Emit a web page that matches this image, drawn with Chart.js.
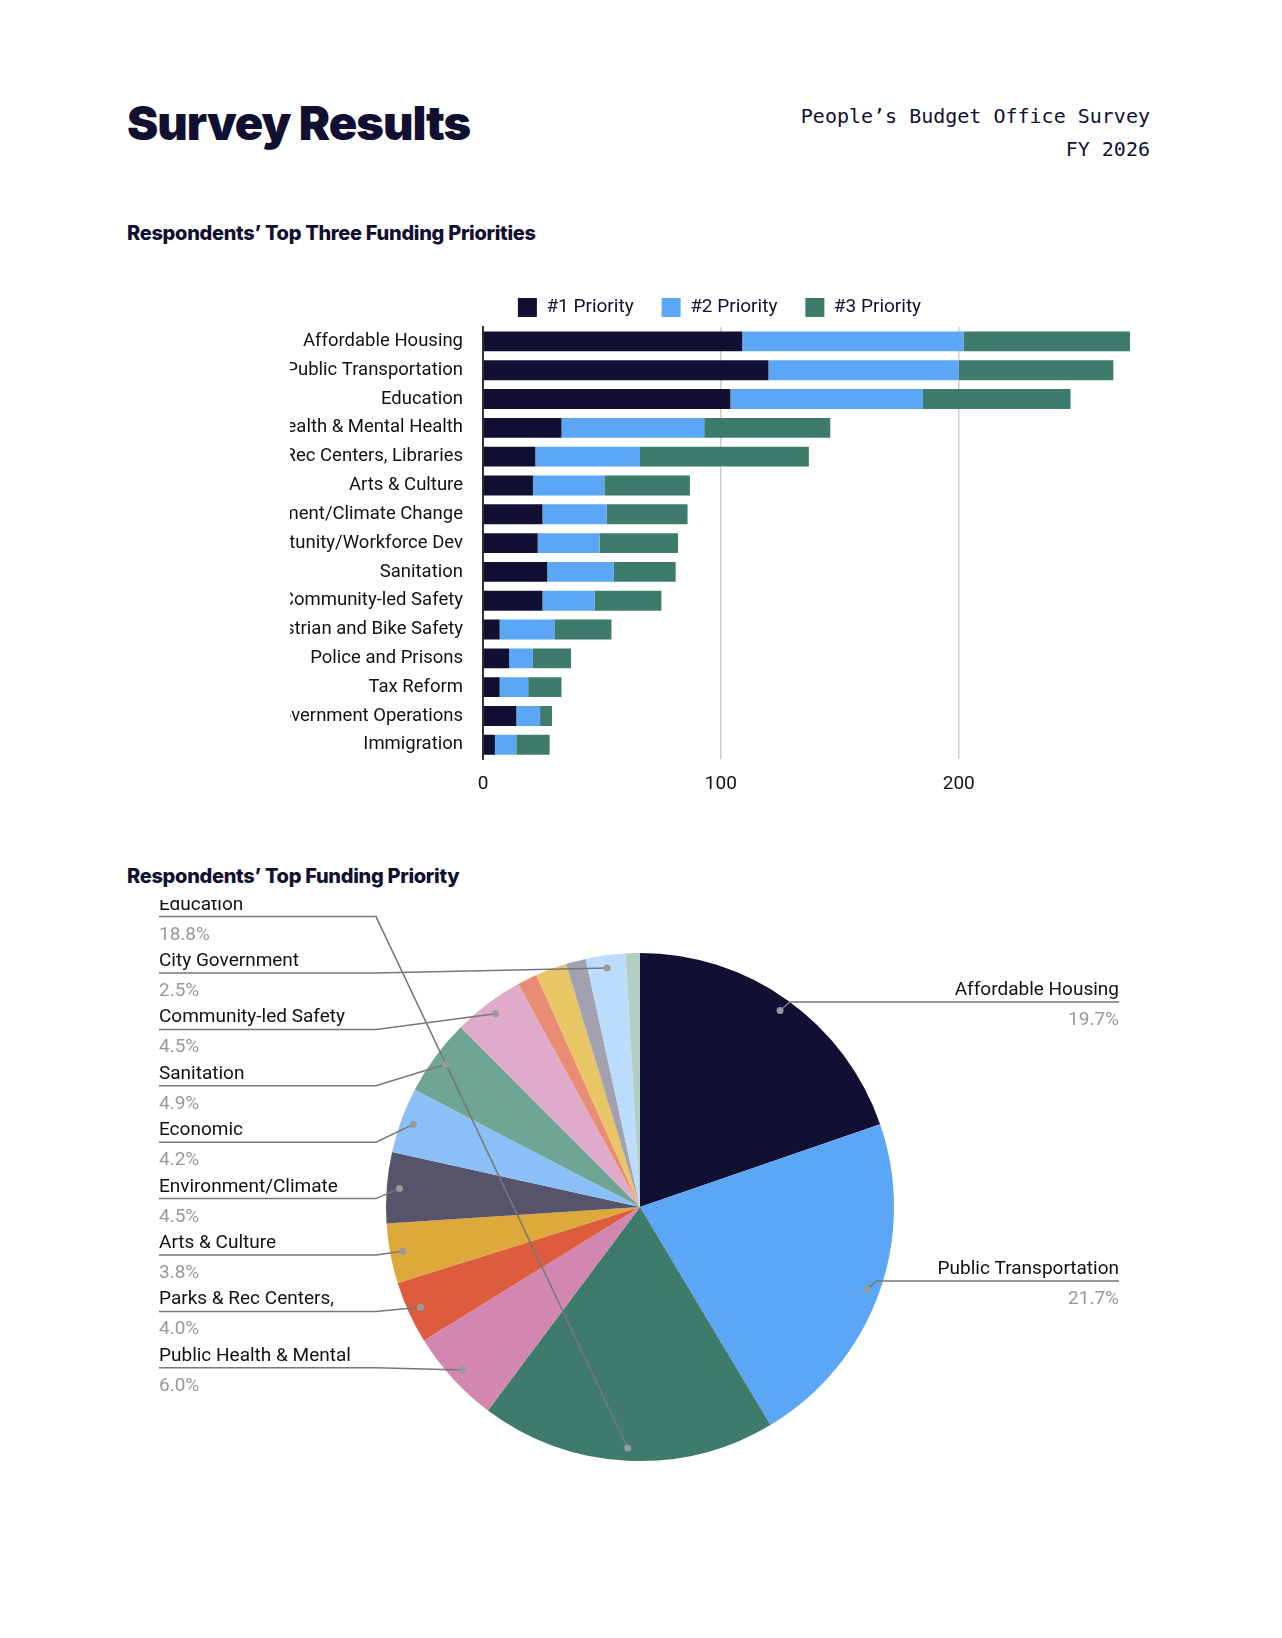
<!DOCTYPE html>
<html>
<head>
<meta charset="utf-8">
<script src="https://cdn.jsdelivr.net/npm/chart.js@4"></script>
<style>
  body { margin: 0; background: #fff; width: 1282px; height: 1638px; position: relative; font-family: Roboto, sans-serif; color: #111032; }
  h1 { position: absolute; left: 127px; top: 94px; margin: 0; font: 900 47px Inter, sans-serif; letter-spacing: -1px; }
  .sub { position: absolute; right: 132px; top: 100px; text-align: right; font: 20px "DejaVu Sans Mono", monospace; line-height: 33px; }
  h2 { position: absolute; left: 127px; margin: 0; font: 800 20px Inter, sans-serif; letter-spacing: -0.3px; }
  canvas { position: absolute; left: 0; }
</style>
</head>
<body>
<h1>Survey Results</h1>
<div class="sub">People’s Budget Office Survey<br>FY 2026</div>
<h2 style="top:221px">Respondents’ Top Three Funding Priorities</h2>
<div style="position:absolute;left:0;top:270px;width:1282px;height:540px"><canvas id="bars"></canvas></div>
<h2 style="top:864px">Respondents’ Top Funding Priority</h2>
<div style="position:absolute;left:0;top:900px;width:1282px;height:620px"><canvas id="pie"></canvas></div>
<script>
const categories = ["Affordable Housing", "Public Transportation", "Education", "Public Health & Mental Health",
  "Parks & Rec Centers, Libraries", "Arts & Culture", "Environment/Climate Change", "Economic Opportunity/Workforce Dev",
  "Sanitation", "Community-led Safety", "Pedestrian and Bike Safety", "Police and Prisons", "Tax Reform",
  "City Government Operations", "Immigration"];
const priority1 = [109, 120, 104, 33, 22, 21, 25, 23, 27, 25, 7, 11, 7, 14, 5];
const priority2 = [93, 80, 81, 60, 44, 30, 27, 26, 28, 22, 23, 10, 12, 10, 9];
const priority3 = [70, 65, 62, 53, 71, 36, 34, 33, 26, 28, 24, 16, 14, 5, 14];
const xTicks = [0, 100, 200];
// short names shown next to the pie (null = no label)
const pieNames = ["Affordable Housing", "Public Transportation", "Education", "Public Health & Mental",
  "Parks & Rec Centers,", "Arts & Culture", "Environment/Climate", "Economic", "Sanitation",
  "Community-led Safety", null, null, null, "City Government", null];
const pieColors = ["#111032", "#5ca6f6", "#3e7b6b", "#d287b0", "#de5c3e", "#dda93b", "#56536a", "#8bbff7",
  "#6fa594", "#e0aacb", "#e88d73", "#e8c565", "#a1a1b0", "#bcdcfd", "#b3cfc2"];

Chart.defaults.font.family = "Roboto";
Chart.defaults.color = "#111032";

new Chart(document.getElementById("bars"), {
  type: "bar",
  data: {
    labels: categories,
    datasets: [
      { label: "#1 Priority", data: priority1, backgroundColor: "#111032" },
      { label: "#2 Priority", data: priority2, backgroundColor: "#5ca6f6" },
      { label: "#3 Priority", data: priority3, backgroundColor: "#3e7b6b" },
    ],
  },
  options: {
    indexAxis: "y",
    responsive: true,
    maintainAspectRatio: false,
    animation: false,
    layout: { padding: { left: 290, right: 133, top: 0, bottom: 0 } },
    datasets: { bar: { categoryPercentage: 0.69, barPercentage: 1 } },
    plugins: {
      legend: {
        labels: { boxWidth: 19, boxHeight: 19, padding: 28, font: { size: 19 } },
      },
      tooltip: { enabled: false },
    },
    scales: {
      x: {
        stacked: true, min: 0, max: 280,
        afterBuildTicks: (s) => { s.ticks = xTicks.map((v) => ({ value: v })); },
        grid: { color: (c) => (c.tick && c.tick.value === 0 ? "rgba(0,0,0,0)" : "#cccccc"), drawTicks: false, lineWidth: 1.5 },
        border: { display: false },
        ticks: { font: { size: 19 }, padding: 14, color: "#111" },
      },
      y: {
        stacked: true,
        afterFit: (s) => { s.width = 193; },
        grid: { display: false, drawTicks: false },
        border: { color: "#333", width: 2 },
        ticks: { font: { size: 18.5 }, padding: 20, color: "#111", autoSkip: false },
      },
    },
  },
});

const leaderLabels = {
  id: "leaderLabels",
  afterDatasetsDraw(chart) {
    const ctx = chart.ctx;
    const meta = chart.getDatasetMeta(0);
    const total = priority1.reduce((a, b) => a + b, 0);
    const leftOrder = [];
    pieNames.forEach((n, i) => { if (n && i > 2) leftOrder.unshift(i); });
    ctx.save();
    ctx.font = "19px Roboto";
    pieNames.forEach((name, i) => {
      if (!name) return;
      const arc = meta.data[i];
      const mid = (arc.startAngle + arc.endAngle) / 2;
      const r = arc.outerRadius * 0.95;
      const dx = arc.x + Math.cos(mid) * r, dy = arc.y + Math.sin(mid) * r;
      const pct = (priority1[i] / total * 100).toFixed(1) + "%";
      let tx, ty, lineEnd, align;
      if (i < 2) {
        ty = i === 0 ? 95 : 374; tx = 1119; align = "right";
      } else {
        ty = 66 + leftOrder.indexOf(i) * 56.4; tx = 159; align = "left";
      }
      const uy = ty + 7;
      ctx.strokeStyle = "#777"; ctx.lineWidth = 1.5;
      ctx.beginPath();
      if (align === "left") {
        ctx.moveTo(159, uy); ctx.lineTo(376, uy); ctx.lineTo(dx, dy);
      } else {
        ctx.moveTo(dx, dy); ctx.lineTo(dx + 10, uy); ctx.lineTo(1119, uy);
      }
      ctx.stroke();
      ctx.fillStyle = "#999";
      ctx.beginPath(); ctx.arc(dx, dy, 3.5, 0, Math.PI * 2); ctx.fill();
      ctx.textAlign = align; ctx.textBaseline = "alphabetic";
      ctx.fillStyle = "#111";
      ctx.fillText(name, tx, ty);
      ctx.fillStyle = "#999";
      ctx.fillText(pct, tx, ty + 30);
    });
    ctx.restore();
  },
};

new Chart(document.getElementById("pie"), {
  type: "pie",
  data: { labels: categories, datasets: [{ data: priority1, backgroundColor: pieColors, borderWidth: 0 }] },
  options: {
    responsive: true,
    maintainAspectRatio: false,
    animation: false,
    layout: { padding: { left: 386, right: 388, top: 53, bottom: 59 } },
    plugins: { legend: { display: false }, tooltip: { enabled: false } },
  },
  plugins: [leaderLabels],
});
</script>
</body>
</html>
